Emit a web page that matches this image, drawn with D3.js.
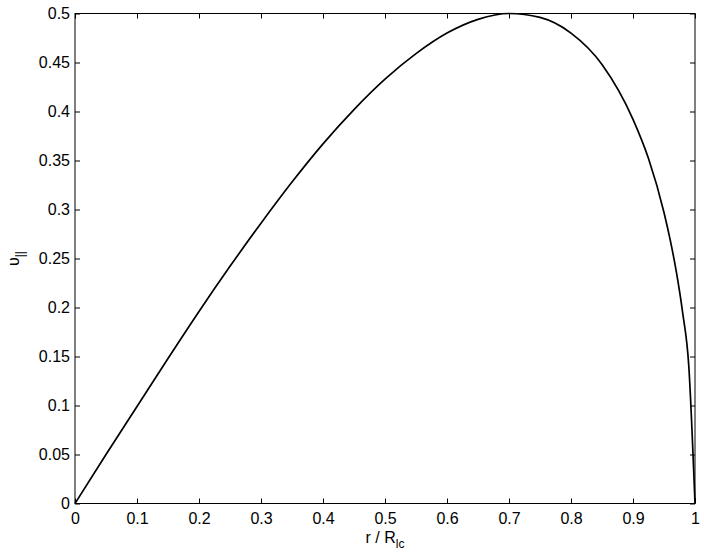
<!DOCTYPE html>
<html>
<head>
<meta charset="utf-8">
<style type="text/css">
	body { margin: 0; background: white; }
	.chart text { font-family: "Liberation Sans", Arial, sans-serif; font-size: 16px; fill: black; }
	.chart .tick text { font-size: 16px; }
	.chart .tick line { stroke: black; }
	.chart .domain { display: none; }
</style>
</head>
<body>
<svg class="chart" width=704 height=556></svg>
<script src='https://d3js.org/d3.v7.min.js'></script>
<script>
// values
var rValues = [0, 0.05, 0.1, 0.15, 0.2, 0.25, 0.3, 0.35, 0.4, 0.45, 0.5, 0.55, 0.6, 0.65,
	0.7, 0.75, 0.8, 0.85, 0.9, 0.925, 0.95, 0.96, 0.97, 0.98, 0.99, 1];
var vValues = [0, 0.050, 0.099, 0.148, 0.196, 0.242, 0.286, 0.328, 0.367, 0.402, 0.433, 0.459, 0.480, 0.494,
	0.500, 0.496, 0.480, 0.448, 0.392, 0.352, 0.297, 0.269, 0.236, 0.195, 0.140, 0];
var xTicks = [0, 0.1, 0.2, 0.3, 0.4, 0.5, 0.6, 0.7, 0.8, 0.9, 1];
var yTicks = [0, 0.05, 0.1, 0.15, 0.2, 0.25, 0.3, 0.35, 0.4, 0.45, 0.5];

var svg = d3.select("svg");

var plotLeft = 75, plotRight = 695, plotTop = 13.5, plotBottom = 503.5;

var x = d3.scaleLinear().domain([0, 1]).range([plotLeft, plotRight]);
var y = d3.scaleLinear().domain([0, 0.5]).range([plotBottom, plotTop]);

//Ticks on all four sides, pointing in
svg.append("g")
	.attr("transform", "translate(0," + plotBottom + ")")
	.call(d3.axisBottom(x).tickValues(xTicks).tickSize(-5).tickPadding(9).tickFormat(d3.format("~g")));
svg.append("g")
	.attr("transform", "translate(0," + plotTop + ")")
	.call(d3.axisTop(x).tickValues(xTicks).tickSize(-5).tickFormat(""));
svg.append("g")
	.attr("transform", "translate(" + plotLeft + ",0)")
	.call(d3.axisLeft(y).tickValues(yTicks).tickSize(-5).tickPadding(5).tickFormat(d3.format("~g")));
svg.append("g")
	.attr("transform", "translate(" + plotRight + ",0)")
	.call(d3.axisRight(y).tickValues(yTicks).tickSize(-5).tickFormat(""));

//Box
svg.append("rect")
	.attr("x", plotLeft).attr("y", plotTop)
	.attr("width", plotRight - plotLeft).attr("height", plotBottom - plotTop)
	.attr("fill", "none").attr("stroke", "black").attr("stroke-width", 1);

//Curve
var points = rValues.map(function(d, i) { return [d, vValues[i]]; });
svg.append("path")
	.datum(points)
	.attr("fill", "none")
	.attr("stroke", "black")
	.attr("stroke-width", 1.7)
	.attr("d", d3.line()
		.x(function(d) { return x(d[0]); })
		.y(function(d) { return y(d[1]); })
		.curve(d3.curveMonotoneX));

//Axis labels
var xl = svg.append("text")
	.attr("x", (plotLeft + plotRight) / 2)
	.attr("y", 543)
	.attr("text-anchor", "middle");
xl.append("tspan").text("r / R");
xl.append("tspan").attr("dy", 5).style("font-size", "12px").text("lc");

var yl = svg.append("text")
	.attr("transform", "translate(19," + (plotTop + plotBottom) / 2 + ") rotate(-90)")
	.attr("text-anchor", "middle");
yl.append("tspan").text("\u03C5");
yl.append("tspan").attr("dy", 5).style("font-size", "12px").text("||");
</script>
</body>
</html>
